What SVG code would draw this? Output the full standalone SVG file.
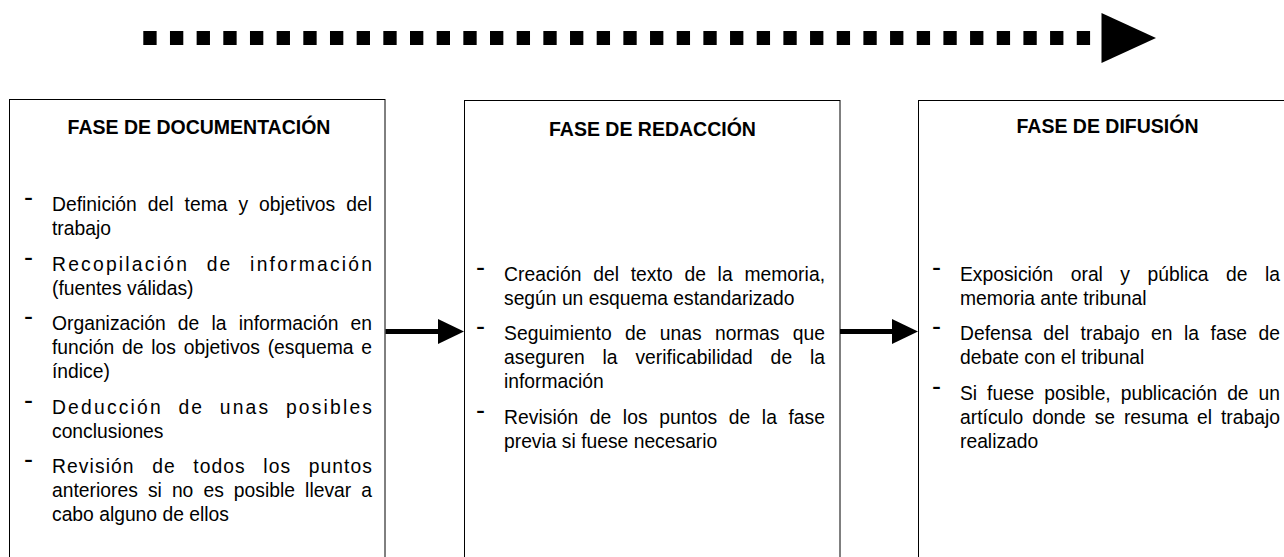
<svg xmlns="http://www.w3.org/2000/svg" width="1284" height="557" viewBox="0 0 1284 557">
<style>
.box{fill:#fff;stroke:#000;stroke-width:1}
.t{font-family:"Liberation Sans",Arial,sans-serif;font-size:19.5px;font-weight:bold;text-anchor:middle;fill:#000}
.b{font-family:"Liberation Sans",Arial,sans-serif;font-size:19.3px;fill:#000}
.d{font-family:"Liberation Sans",Arial,sans-serif;font-size:27px;fill:#000}
.shaft{stroke:#000;stroke-width:5;fill:none}
.head{fill:#000;stroke:none}
</style>
<rect width="1284" height="557" fill="#fff"/>
<g id="timeline">
<line x1="143.3" y1="38" x2="1090.5" y2="38" stroke="#000" stroke-width="14" stroke-dasharray="13.33 13.34"/>
<polygon class="head" points="1101.5,13 1156,38 1101.5,63"/>
</g>
<g id="node-documentacion">
<rect class="box" x="9.5" y="99.5" width="375.5" height="520"/>
<text class="t" x="199" y="134">FASE DE DOCUMENTACIÓN</text>
<text class="d" x="24" y="206">-</text>
<text class="d" x="24" y="265.5">-</text>
<text class="d" x="24" y="325">-</text>
<text class="d" x="24" y="408.5">-</text>
<text class="d" x="24" y="468">-</text>
<text class="b" x="52" y="211" textLength="320" lengthAdjust="spacing" style="word-spacing:5.6px">Definición del tema y objetivos del</text>
<text class="b" x="52" y="235">trabajo</text>
<text class="b" x="52" y="270.5" textLength="320" lengthAdjust="spacing" style="word-spacing:10px">Recopilación de información</text>
<text class="b" x="52" y="294.5">(fuentes válidas)</text>
<text class="b" x="52" y="330" textLength="320" lengthAdjust="spacing" style="word-spacing:6.8px">Organización de la información en</text>
<text class="b" x="52" y="354" textLength="320" lengthAdjust="spacing" style="word-spacing:2.4px">función de los objetivos (esquema e</text>
<text class="b" x="52" y="378">índice)</text>
<text class="b" x="52" y="413.5" textLength="320" lengthAdjust="spacing" style="word-spacing:8px">Deducción de unas posibles</text>
<text class="b" x="52" y="437.5">conclusiones</text>
<text class="b" x="52" y="473" textLength="320" lengthAdjust="spacing" style="word-spacing:11px">Revisión de todos los puntos</text>
<text class="b" x="52" y="497" textLength="320" lengthAdjust="spacing" style="word-spacing:4.7px">anteriores si no es posible llevar a</text>
<text class="b" x="52" y="521">cabo alguno de ellos</text>
</g>
<g id="node-redaccion">
<rect class="box" x="464.5" y="100.5" width="375.5" height="520"/>
<text class="t" x="652.5" y="136">FASE DE REDACCIÓN</text>
<text class="d" x="476" y="275.5">-</text>
<text class="d" x="476" y="335">-</text>
<text class="d" x="476" y="418.5">-</text>
<text class="b" x="504" y="280.5" textLength="321" lengthAdjust="spacing" style="word-spacing:6.3px">Creación del texto de la memoria,</text>
<text class="b" x="504" y="304.5">según un esquema estandarizado</text>
<text class="b" x="504" y="340" textLength="321" lengthAdjust="spacing" style="word-spacing:7.85px">Seguimiento de unas normas que</text>
<text class="b" x="504" y="364" textLength="321" lengthAdjust="spacing" style="word-spacing:12.4px">aseguren la verificabilidad de la</text>
<text class="b" x="504" y="388">información</text>
<text class="b" x="504" y="423.5" textLength="321" lengthAdjust="spacing" style="word-spacing:6.1px">Revisión de los puntos de la fase</text>
<text class="b" x="504" y="447.5">previa si fuese necesario</text>
</g>
<g id="node-difusion">
<rect class="box" x="918.5" y="100.5" width="380" height="520"/>
<text class="t" x="1107.5" y="133">FASE DE DIFUSIÓN</text>
<text class="d" x="932" y="275.5">-</text>
<text class="d" x="932" y="335">-</text>
<text class="d" x="932" y="394.5">-</text>
<text class="b" x="960" y="280.5" textLength="320" lengthAdjust="spacing" style="word-spacing:12.1px">Exposición oral y pública de la</text>
<text class="b" x="960" y="304.5">memoria ante tribunal</text>
<text class="b" x="960" y="340" textLength="320" lengthAdjust="spacing" style="word-spacing:6.1px">Defensa del trabajo en la fase de</text>
<text class="b" x="960" y="364">debate con el tribunal</text>
<text class="b" x="960" y="399.5" textLength="320" lengthAdjust="spacing" style="word-spacing:4.6px">Si fuese posible, publicación de un</text>
<text class="b" x="960" y="423.5" textLength="320" lengthAdjust="spacing" style="word-spacing:3.5px">artículo donde se resuma el trabajo</text>
<text class="b" x="960" y="447.5">realizado</text>
</g>
<g id="connectors">
<line class="shaft" x1="385.5" y1="331.5" x2="440" y2="331.5"/>
<polygon class="head" points="438,319 464,331.5 438,344"/>
<line class="shaft" x1="840" y1="331.5" x2="894" y2="331.5"/>
<polygon class="head" points="892,319 918,331.5 892,344"/>
</g>
</svg>
